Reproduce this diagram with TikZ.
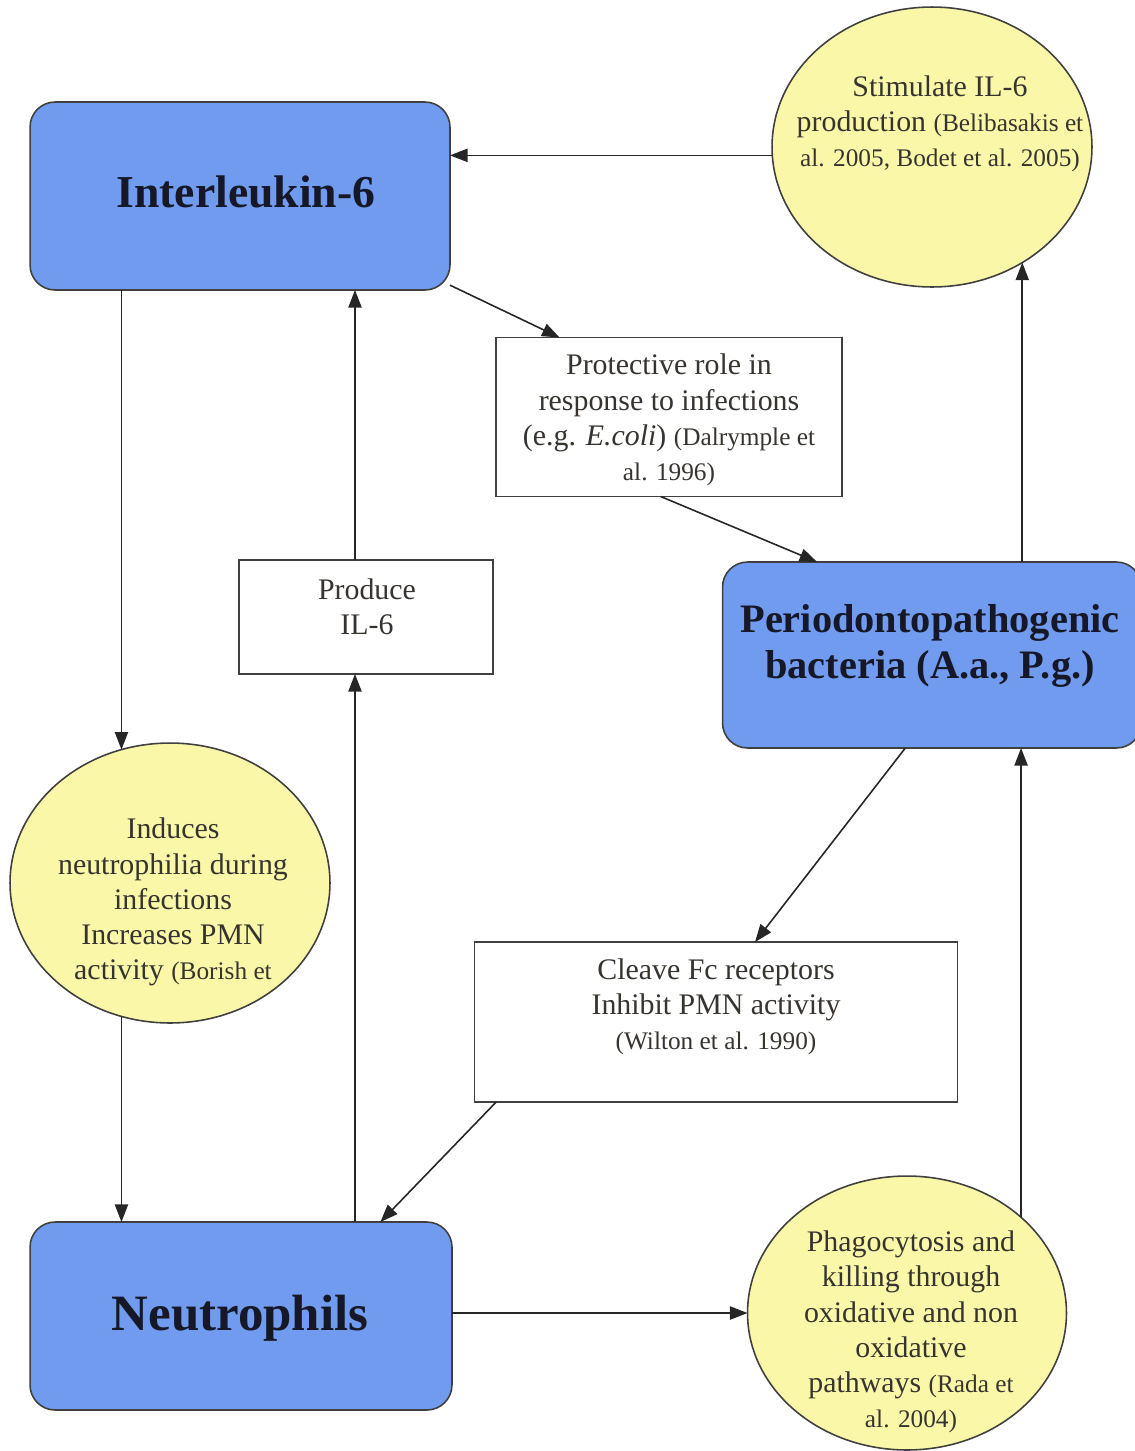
\documentclass[tikz,border=0pt]{standalone}
\usepackage{fontspec}
\setmainfont{Liberation Serif}
\usetikzlibrary{arrows.meta,shapes.geometric}

\definecolor{boxblue}{RGB}{112,155,238}
\definecolor{ovalyellow}{RGB}{250,248,168}
\definecolor{inkgray}{RGB}{55,52,48}
\definecolor{titleink}{RGB}{22,24,40}

\newcommand{\cit}[1]{{\fontsize{14.4}{20}\selectfont #1}}

\begin{document}
\begin{tikzpicture}[x=0.02cm,y=-0.02cm,
    every node/.style={inner sep=0pt,outer sep=0pt},
    bluebox/.style={draw=black!75,line width=0.9pt,fill=boxblue,rounded corners=0.5cm},
    plainbox/.style={draw=black!75,line width=0.9pt,fill=white},
    oval/.style={ellipse,draw=black!75,line width=0.9pt,fill=ovalyellow},
    title/.style={align=center,text=titleink,font=\bfseries\fontsize{26}{30}\selectfont},
    txt/.style={align=center,text=inkgray,font=\fontsize{17}{20}\selectfont},
    arr/.style={-{Triangle[length=10pt,width=7.5pt]},line width=0.9pt,draw=black!85}]
      \useasboundingbox (0,0) rectangle (1134,1451);

      % shapes
      \node[bluebox,minimum width=8.4cm,minimum height=3.76cm] (il6) at (240,196) {};
      \node[title] (il6-t) at (246,192) {Interleukin-6};

      \node[oval,minimum width=6.4cm,minimum height=5.6cm] (sti) at (932,147) {};
      \node[txt] (sti-t) at (940,124) {Stimulate IL-6\\production \cit{(Belibasakis et}\\\cit{al. 2005, Bodet et al. 2005)}};

      \node[plainbox,minimum width=6.92cm,minimum height=3.18cm] (prot) at (669,417) {};
      \node[txt] (prot-t) at (669,420) {Protective role in\\response to infections\\(e.g. \textit{E.coli}) \cit{(Dalrymple et}\\\cit{al. 1996)}};

      \node[plainbox,minimum width=5.08cm,minimum height=2.28cm] (pro) at (366,617) {};
      \node[txt] (pro-t) at (367,607) {Produce\\IL-6};

      \node[bluebox,minimum width=8.38cm,minimum height=3.72cm] (per) at (932,655) {};
      \node[title,font=\bfseries\fontsize{23}{26}\selectfont] (per-t) at (930,646) {Periodontopathogenic\\bacteria (A.a., P.g.)};

      \node[oval,minimum width=6.4cm,minimum height=5.6cm] (ind) at (170,883) {};
      \node[txt] (ind-t) at (173,902) {Induces\\neutrophilia during\\infections\\Increases PMN\\activity \cit{(Borish et}};

      \node[plainbox,minimum width=9.66cm,minimum height=3.2cm] (clv) at (716,1022) {};
      \node[txt] (clv-t) at (716,1007) {Cleave Fc receptors\\Inhibit PMN activity\\\cit{(Wilton et al. 1990)}};

      \node[bluebox,minimum width=8.44cm,minimum height=3.76cm] (neu) at (241,1316) {};
      \node[title,font=\bfseries\fontsize{29}{32}\selectfont] (neu-t) at (240,1318) {Neutrophils};

      \node[oval,minimum width=6.38cm,minimum height=5.48cm] (pha) at (907,1313) {};
      \node[txt] (pha-t) at (911,1332) {Phagocytosis and\\killing through\\oxidative and non\\oxidative\\pathways \cit{(Rada et}\\\cit{al. 2004)}};

      % connectors
      \coordinate (colA) at (355,0);
      \draw[arr] (sti.183) -- (sti.183 -| il6.east);
      \draw[arr] (il6.-23) -- (prot.144);
      \draw[arr] (prot.-96) -- (per.141);
      \draw[arr] (per.north -| sti.-52) -- (sti.-52);
      \draw[arr] (il6.south -| ind.110) -- (ind.110);
      \draw[arr] (ind.250) -- (ind.250 |- neu.north);
      \draw[arr] (neu.north -| colA) -- (pro.south -| colA);
      \draw[arr] (pro.north -| colA) -- (il6.south -| colA);
      \draw[arr] (per.-106) -- (clv.64);
      \draw[arr] (clv.-160) -- (neu.34);
      \draw[arr] (pha.west -| neu.east) -- (pha.west);
      \draw[arr] (pha.40) -- (pha.40 |- per.south);
\end{tikzpicture}
\end{document}
